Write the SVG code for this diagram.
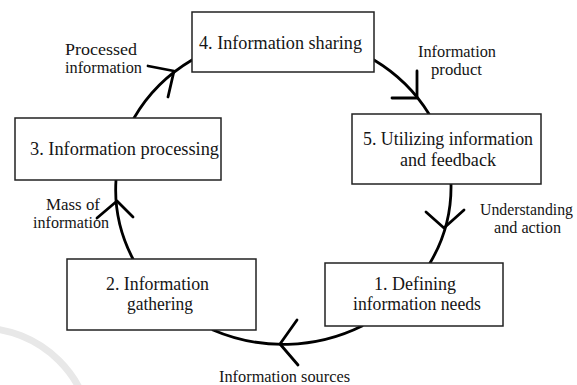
<svg xmlns="http://www.w3.org/2000/svg" width="577" height="385" viewBox="0 0 577 385">
<style>
.box{fill:#fff;stroke:#222;stroke-width:1.5}
.t{font-family:'Liberation Serif','DejaVu Serif',serif;font-size:19px;fill:#151515}
.l{font-family:'Liberation Serif','DejaVu Serif',serif;font-size:16.5px;fill:#151515}
.c{fill:none;stroke:#000;stroke-width:2.8;stroke-linecap:round;stroke-linejoin:round}
</style>
<rect width="577" height="385" fill="#fff"/>
<circle cx="-20" cy="440" r="112" fill="none" stroke="#e8e8e8" stroke-width="7"/>
<g id="connectors">
<path class="c" d="M134,118 A168,157 0 0 1 192,60"/>
<path class="c" d="M374,60 A168,157 0 0 1 429,114"/>
<path class="c" d="M451,184 A168,157 0 0 1 430,263"/>
<path class="c" d="M362,326 A168,157 0 0 1 213,330"/>
<path class="c" d="M133,259 A168,157 0 0 1 116,180"/>
<polyline class="c" points="148,66 174,71 168,97"/>
<polyline class="c" points="417,71 417,98 392,98"/>
<polyline class="c" points="426,212 444,228 464,210"/>
<polyline class="c" points="297,320 280,344 298,365"/>
<polyline class="c" points="97,218 117,201 133,217"/>
</g>
<g id="n4">
<rect class="box" x="192" y="12" width="182" height="60"/>
<text class="t" x="199" y="49" textLength="163" lengthAdjust="spacingAndGlyphs">4. Information sharing</text>
</g>
<g id="n5">
<rect class="box" x="352" y="114" width="189" height="70"/>
<text class="t" x="363" y="145" textLength="170" lengthAdjust="spacingAndGlyphs">5. Utilizing  information</text>
<text class="t" x="400" y="166" textLength="96" lengthAdjust="spacingAndGlyphs">and feedback</text>
</g>
<g id="n3">
<rect class="box" x="15" y="118" width="206" height="62"/>
<text class="t" x="30" y="155" textLength="189" lengthAdjust="spacingAndGlyphs">3. Information processing</text>
</g>
<g id="n2">
<rect class="box" x="67" y="259" width="189" height="71"/>
<text class="t" x="106" y="290" textLength="103" lengthAdjust="spacingAndGlyphs">2. Information</text>
<text class="t" x="127" y="310" textLength="66" lengthAdjust="spacingAndGlyphs">gathering</text>
</g>
<g id="n1">
<rect class="box" x="325" y="263" width="178" height="63"/>
<text class="t" x="374" y="290" textLength="82" lengthAdjust="spacingAndGlyphs">1. Defining</text>
<text class="t" x="353" y="310" textLength="128" lengthAdjust="spacingAndGlyphs">information needs</text>
</g>
<g id="labels">
<text class="l" x="65" y="55" textLength="72" lengthAdjust="spacingAndGlyphs">Processed</text>
<text class="l" x="65" y="73" textLength="77" lengthAdjust="spacingAndGlyphs">information</text>
<text class="l" x="418" y="57" textLength="78" lengthAdjust="spacingAndGlyphs">Information</text>
<text class="l" x="431" y="75" textLength="51" lengthAdjust="spacingAndGlyphs">product</text>
<text class="l" x="480" y="215" textLength="93" lengthAdjust="spacingAndGlyphs">Understanding</text>
<text class="l" x="494" y="233" textLength="67" lengthAdjust="spacingAndGlyphs">and action</text>
<text class="l" x="46" y="210" textLength="54" lengthAdjust="spacingAndGlyphs">Mass of</text>
<text class="l" x="33" y="228" textLength="76" lengthAdjust="spacingAndGlyphs">information</text>
<text class="l" x="219" y="382" textLength="131" lengthAdjust="spacingAndGlyphs">Information sources</text>
</g>
</svg>
